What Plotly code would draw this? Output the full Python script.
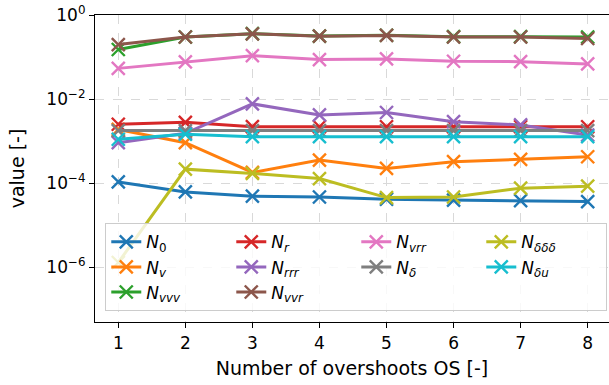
import plotly.graph_objects as go

# Number of overshoots
os_count = [1, 2, 3, 4, 5, 6, 7, 8]

N_0 = [1.07e-4, 6.2e-5, 4.9e-5, 4.7e-5, 4.15e-5, 3.95e-5, 3.85e-5, 3.66e-5]
N_v = [1.9e-3, 9.2e-4, 1.8e-4, 3.55e-4, 2.25e-4, 3.25e-4, 3.7e-4, 4.25e-4]
N_vvv = [0.151, 0.30, 0.36, 0.315, 0.33, 0.305, 0.305, 0.30]
N_r = [2.52e-3, 2.8e-3, 2.21e-3, 2.2e-3, 2.2e-3, 2.2e-3, 2.2e-3, 2.2e-3]
N_rrr = [9.2e-4, 1.54e-3, 7.7e-3, 4.2e-3, 4.8e-3, 2.9e-3, 2.43e-3, 1.40e-3]
N_vvr = [0.198, 0.30, 0.357, 0.313, 0.326, 0.30, 0.30, 0.276]
N_vrr = [0.0538, 0.0766, 0.108, 0.087, 0.090, 0.0794, 0.0778, 0.0686]
N_d = [1.78e-3, 1.78e-3, 1.78e-3, 1.78e-3, 1.78e-3, 1.78e-3, 1.78e-3, 1.78e-3]
N_ddd = [1.3e-6, 2.16e-4, 1.71e-4, 1.29e-4, 4.55e-5, 4.7e-5, 7.6e-5, 8.5e-5]
N_du = [1.11e-3, 1.46e-3, 1.28e-3, 1.28e-3, 1.28e-3, 1.28e-3, 1.28e-3, 1.28e-3]

series = [
    ("<i>N</i><sub>0</sub>", N_0, "#1f77b4"),
    ("<i>N<sub>v</sub></i>", N_v, "#ff7f0e"),
    ("<i>N<sub>vvv</sub></i>", N_vvv, "#2ca02c"),
    ("<i>N<sub>r</sub></i>", N_r, "#d62728"),
    ("<i>N<sub>rrr</sub></i>", N_rrr, "#9467bd"),
    ("<i>N<sub>vvr</sub></i>", N_vvr, "#8c564b"),
    ("<i>N<sub>vrr</sub></i>", N_vrr, "#e377c2"),
    ("<i>N<sub>δ</sub></i>", N_d, "#7f7f7f"),
    ("<i>N<sub>δδδ</sub></i>", N_ddd, "#bcbd22"),
    ("<i>N<sub>δu</sub></i>", N_du, "#17becf"),
]

# legend columns hold 3, 3, 2, 2 entries; plotly fills rows, so rank row-major
legend_grid = [[0, 1, 2], [3, 4, 5], [6, 7], [8, 9]]
rank = {}
for r in range(3):
    for c, column in enumerate(legend_grid):
        if r < len(column):
            rank[column[r]] = len(rank) + 1

fig = go.Figure()
for i, (name, vals, color) in enumerate(series):
    fig.add_trace(go.Scatter(
        x=os_count, y=vals, name=name, mode="lines+markers",
        line=dict(color=color, width=3),
        marker=dict(symbol="x-thin", size=13, line=dict(color=color, width=2.4)),
        legendrank=rank[i],
    ))

ytick_vals = [1, 1e-2, 1e-4, 1e-6]
ytick_text = ["10<sup>0</sup>", "10<sup>−2</sup>", "10<sup>−4</sup>", "10<sup>−6</sup>"]

fig.update_layout(
    width=609, height=385,
    margin=dict(l=95, r=0, t=15, b=63),
    plot_bgcolor="white", paper_bgcolor="white",
    font=dict(family="DejaVu Sans", size=17, color="black"),
    showlegend=True,
    legend=dict(
        orientation="h", x=0.02, y=0.035, xanchor="left", yanchor="bottom",
        bgcolor="rgba(255,255,255,0.8)", bordercolor="#cccccc", borderwidth=1,
        font=dict(size=17), entrywidth=80, traceorder="normal",
    ),
    xaxis=dict(
        range=[0.6526, 8.318], tickvals=os_count,
        showline=True, linecolor="black", linewidth=1.2, mirror=True,
        ticks="outside", ticklen=5, tickcolor="black",
        showgrid=True, gridcolor="#d9d9d9", griddash="dash", gridwidth=1,
        zeroline=False, tickfont=dict(size=17),
        title=dict(text="Number of overshoots OS [-]", font=dict(size=19), standoff=10),
    ),
    yaxis=dict(
        type="log", range=[-7.301, 0],
        tickvals=ytick_vals, ticktext=ytick_text,
        showline=True, linecolor="black", linewidth=1.2,
        ticks="outside", ticklen=5, tickcolor="black",
        showgrid=True, gridcolor="#d9d9d9", griddash="dash", gridwidth=1,
        zeroline=False, tickfont=dict(size=17),
        title=dict(text="value [-]", font=dict(size=19), standoff=16),
    ),
)

fig.write_html("out.html")
